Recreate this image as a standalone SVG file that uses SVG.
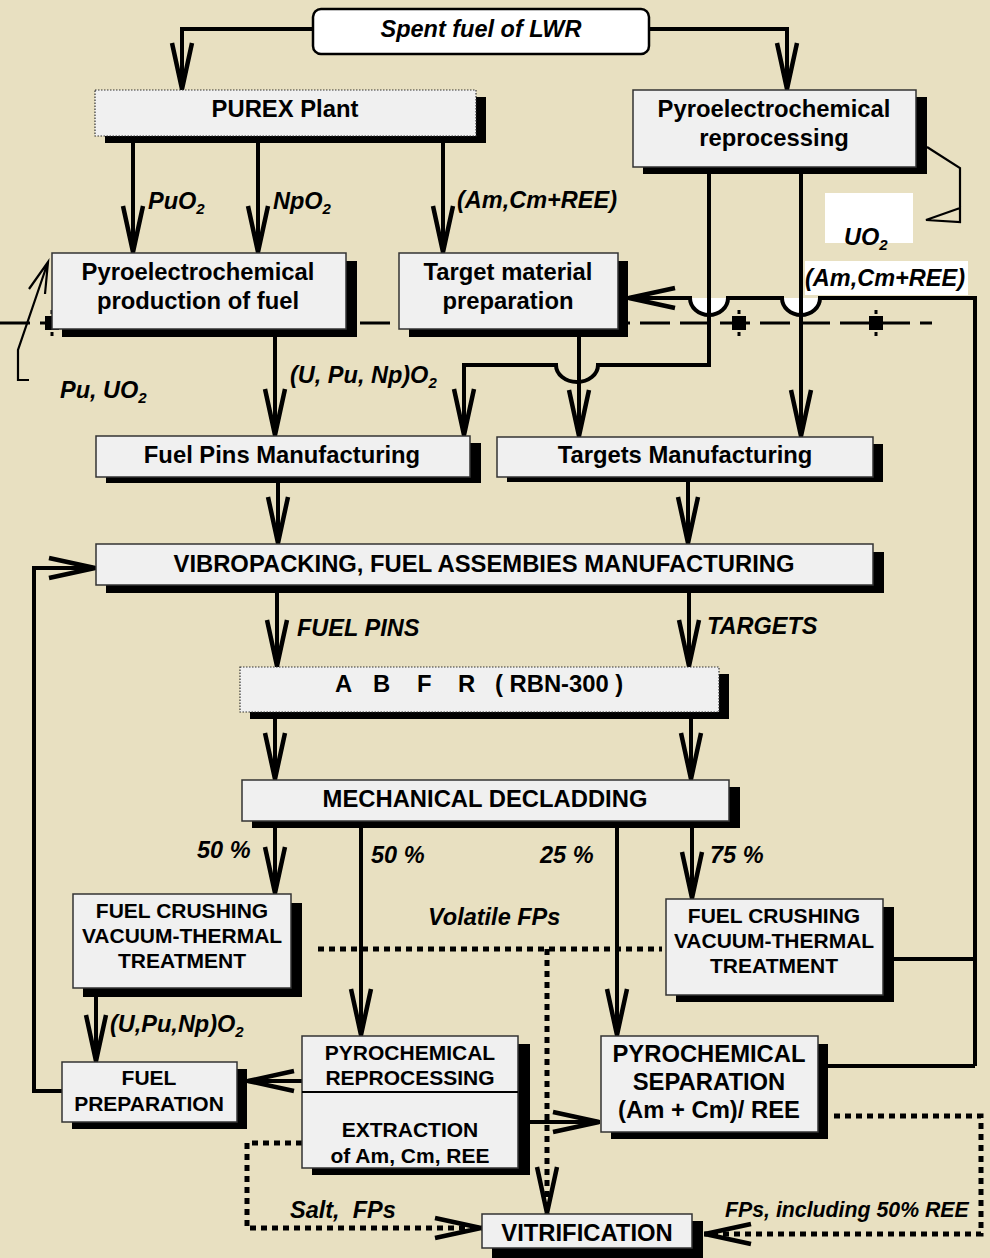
<svg xmlns="http://www.w3.org/2000/svg" width="990" height="1258" viewBox="0 0 990 1258">
<defs>
<style>
.bg{fill:#E8E0C1}
.c{fill:none;stroke:#000;stroke-width:4}
.d{fill:none;stroke:#000;stroke-width:5;stroke-dasharray:6 5}
.sh{fill:#000}
.bx{fill:#F0F0F0;stroke:#333;stroke-width:1.5}
.bxd{fill:#F0F0F0;stroke:#333;stroke-width:1.2;stroke-dasharray:1.5 1.5}
.t{font-family:"Liberation Sans",Arial,sans-serif;font-weight:bold;font-size:23.8px;fill:#000;text-anchor:middle}
.ts{font-family:"Liberation Sans",Arial,sans-serif;font-weight:bold;font-size:23.8px;fill:#000;text-anchor:start}
.s{font-family:"Liberation Sans",Arial,sans-serif;font-weight:bold;font-size:21px;fill:#000;text-anchor:middle}
.l{font-family:"Liberation Sans",Arial,sans-serif;font-weight:bold;font-style:italic;font-size:23.5px;fill:#000}
.sub{font-size:15px}
</style>
<marker id="ah" markerUnits="userSpaceOnUse" viewBox="-52 -14 56 28" refX="0" refY="0" markerWidth="56" markerHeight="28" orient="auto" overflow="visible">
<path d="M-47,-10 L-1,0 L-47,10" fill="none" stroke="#000" stroke-width="4.5" stroke-dasharray="none"/>
</marker>
</defs>
<rect class="bg" x="0" y="0" width="990" height="1258"/>

<g id="centerline">
<path d="M0,323 H932" fill="none" stroke="#000" stroke-width="3" stroke-dasharray="30 10"/>
<g fill="#000">
<rect x="45" y="316" width="14" height="14"/><rect x="50.5" y="310" width="3" height="4"/><rect x="50.5" y="332" width="3" height="4"/>
<rect x="732" y="316" width="14" height="14"/><rect x="737.5" y="310" width="3" height="4"/><rect x="737.5" y="332" width="3" height="4"/>
<rect x="869" y="316" width="14" height="14"/><rect x="874.5" y="310" width="3" height="4"/><rect x="874.5" y="332" width="3" height="4"/>
</g>
</g>

<g id="label-backgrounds" fill="#fff">
<rect x="825" y="193" width="88" height="50"/>
<rect x="805" y="261" width="163" height="34"/>
<path d="M690,298 A19,17 0 0 0 728,298 Z"/>
<path d="M782,298 A19,17 0 0 0 820,298 Z"/>
</g>

<g id="connectors">
<path class="c" d="M313,29 H182 V90" marker-end="url(#ah)"/>
<path class="c" d="M649,29 H787 V90" marker-end="url(#ah)"/>
<path class="c" d="M133,143 V253" marker-end="url(#ah)"/>
<path class="c" d="M258,143 V253" marker-end="url(#ah)"/>
<path class="c" d="M443,143 V253" marker-end="url(#ah)"/>
<path class="c" d="M275,337 V436" marker-end="url(#ah)"/>
<path class="c" d="M709,174 V365 H598 A21,17 0 0 1 556,365 H464 V436" marker-end="url(#ah)"/>
<path class="c" d="M801,174 V437" marker-end="url(#ah)"/>
<path class="c" d="M579,337 V437" marker-end="url(#ah)"/>
<path class="c" d="M975,1066 V298 H820 A19,17 0 0 1 782,298 H728 A19,17 0 0 1 690,298 H628" marker-end="url(#ah)"/>
<path class="c" d="M894,959 H975"/>
<path class="c" d="M828,1066 H975"/>
<path class="c" d="M278,483 V544" marker-end="url(#ah)"/>
<path class="c" d="M688,482 V544" marker-end="url(#ah)"/>
<path class="c" d="M62,1091 H34 V568 H96" marker-end="url(#ah)"/>
<path class="c" d="M277,593 V667" marker-end="url(#ah)"/>
<path class="c" d="M689,593 V667" marker-end="url(#ah)"/>
<path class="c" d="M275,719 V780" marker-end="url(#ah)"/>
<path class="c" d="M691,719 V780" marker-end="url(#ah)"/>
<path class="c" d="M275,828 V894" marker-end="url(#ah)"/>
<path class="c" d="M361,828 V1036" marker-end="url(#ah)"/>
<path class="c" d="M617,828 V1036" marker-end="url(#ah)"/>
<path class="c" d="M692,828 V899" marker-end="url(#ah)"/>
<path class="c" d="M96,997 V1062" marker-end="url(#ah)"/>
<path class="c" d="M302,1081 H247" marker-end="url(#ah)"/>
<path class="c" d="M530,1122 H600" marker-end="url(#ah)"/>
<path class="d" d="M318,949 H662"/>
<path class="d" d="M547,949 V1214" marker-end="url(#ah)"/>
<path class="d" d="M302,1143 H247 V1228 H482" marker-end="url(#ah)"/>
<path class="d" d="M834,1116 H981 V1234 H704" marker-end="url(#ah)"/>
<path d="M29,380 H18 V350 L48,262 M29,289 L48,262 L45,294" fill="none" stroke="#000" stroke-width="2.2"/>
<path d="M927,147 L960,168 V222 L926,220 L960,208 V222" fill="none" stroke="#000" stroke-width="2.2"/>
</g>

<g id="n-spent">
<rect x="313" y="9" width="336" height="45" rx="8" fill="#fff" stroke="#000" stroke-width="2.5"/>
<text class="l" x="481" y="37" text-anchor="middle">Spent fuel of LWR</text>
</g>
<g id="n-purex">
<rect class="sh" x="105" y="97" width="381" height="46"/>
<rect class="bxd" x="95" y="90" width="381" height="46"/>
<text class="t" x="285" y="117">PUREX Plant</text>
</g>
<g id="n-pyrorep">
<rect class="sh" x="643" y="97" width="284" height="77"/>
<rect class="bx" x="633" y="90" width="283" height="77"/>
<text class="t" x="774" y="117">Pyroelectrochemical</text>
<text class="t" x="774" y="146">reprocessing</text>
</g>
<g id="n-prod">
<rect class="sh" x="62" y="261" width="295" height="76"/>
<rect class="bx" x="52" y="253" width="294" height="76"/>
<text class="t" x="198" y="280">Pyroelectrochemical</text>
<text class="t" x="198" y="309">production of fuel</text>
</g>
<g id="n-target">
<rect class="sh" x="409" y="261" width="219" height="76"/>
<rect class="bx" x="399" y="253" width="219" height="76"/>
<text class="t" x="508" y="280">Target material</text>
<text class="t" x="508" y="309">preparation</text>
</g>
<g id="n-fuelpins">
<rect class="sh" x="106" y="443" width="375" height="40"/>
<rect class="bx" x="96" y="436" width="374" height="41"/>
<text class="t" x="282" y="463">Fuel Pins Manufacturing</text>
</g>
<g id="n-targetsmfg">
<rect class="sh" x="507" y="444" width="376" height="38"/>
<rect class="bx" x="497" y="437" width="376" height="40"/>
<text class="t" x="685" y="463">Targets Manufacturing</text>
</g>
<g id="n-vibro">
<rect class="sh" x="106" y="552" width="778" height="41"/>
<rect class="bx" x="96" y="544" width="777" height="41"/>
<text class="t" x="484" y="572">VIBROPACKING, FUEL ASSEMBIES MANUFACTURING</text>
</g>
<g id="n-abfr">
<rect class="sh" x="250" y="674" width="479" height="45"/>
<rect class="bxd" x="240" y="667" width="479" height="45"/>
<text class="ts" y="692"><tspan x="335">A</tspan><tspan x="373">B</tspan><tspan x="417">F</tspan><tspan x="458">R</tspan><tspan x="495">( RBN-300 )</tspan></text>
</g>
<g id="n-mech">
<rect class="sh" x="252" y="787" width="488" height="41"/>
<rect class="bx" x="242" y="780" width="487" height="41"/>
<text class="t" x="485" y="807">MECHANICAL DECLADDING</text>
</g>
<g id="n-fcl">
<rect class="sh" x="83" y="903" width="219" height="94"/>
<rect class="bx" x="73" y="894" width="218" height="94"/>
<text class="s" x="182" y="918">FUEL CRUSHING</text>
<text class="s" x="182" y="943">VACUUM-THERMAL</text>
<text class="s" x="182" y="968">TREATMENT</text>
</g>
<g id="n-fcr">
<rect class="sh" x="676" y="907" width="218" height="95"/>
<rect class="bx" x="666" y="899" width="217" height="96"/>
<text class="s" x="774" y="923">FUEL CRUSHING</text>
<text class="s" x="774" y="948">VACUUM-THERMAL</text>
<text class="s" x="774" y="973">TREATMENT</text>
</g>
<g id="n-fuelprep">
<rect class="sh" x="72" y="1069" width="175" height="60"/>
<rect class="bx" x="62" y="1062" width="175" height="60"/>
<text class="s" x="149" y="1085">FUEL</text>
<text class="s" x="149" y="1111">PREPARATION</text>
</g>
<g id="n-pyroproc">
<rect class="sh" x="312" y="1044" width="218" height="131"/>
<rect class="bx" x="302" y="1036" width="216" height="132"/>
<line x1="302" y1="1092" x2="518" y2="1092" stroke="#000" stroke-width="2"/>
<text class="s" x="410" y="1060">PYROCHEMICAL</text>
<text class="s" x="410" y="1085">REPROCESSING</text>
<text class="s" x="410" y="1137">EXTRACTION</text>
<text class="s" x="410" y="1163">of Am, Cm, REE</text>
</g>
<g id="n-pyrosep">
<rect class="sh" x="611" y="1044" width="217" height="95"/>
<rect class="bx" x="601" y="1036" width="217" height="96"/>
<text class="t" x="709" y="1062">PYROCHEMICAL</text>
<text class="t" x="709" y="1090">SEPARATION</text>
<text class="t" x="709" y="1118">(Am + Cm)/ REE</text>
</g>
<g id="n-vitr">
<rect class="sh" x="492" y="1221" width="211" height="40"/>
<rect class="bx" x="482" y="1214" width="210" height="34"/>
<text class="t" x="587" y="1241">VITRIFICATION</text>
</g>

<g id="labels">
<text class="l" x="148" y="209">PuO<tspan class="sub" dy="5">2</tspan></text>
<text class="l" x="273" y="209">NpO<tspan class="sub" dy="5">2</tspan></text>
<text class="l" x="457" y="208">(Am,Cm+REE)</text>
<text class="l" x="844" y="245">UO<tspan class="sub" dy="5">2</tspan></text>
<text class="l" x="805" y="286">(Am,Cm+REE)</text>
<text class="l" x="290" y="383">(U, Pu, Np)O<tspan class="sub" dy="5">2</tspan></text>
<text class="l" x="60" y="398">Pu, UO<tspan class="sub" dy="5">2</tspan></text>
<text class="l" x="297" y="636">FUEL PINS</text>
<text class="l" x="707" y="634">TARGETS</text>
<text class="l" x="197" y="858">50 %</text>
<text class="l" x="371" y="863">50 %</text>
<text class="l" x="540" y="863">25 %</text>
<text class="l" x="710" y="863">75 %</text>
<text class="l" x="428" y="925">Volatile FPs</text>
<text class="l" x="110" y="1032">(U,Pu,Np)O<tspan class="sub" dy="5">2</tspan></text>
<text class="l" x="290" y="1218">Salt,&#160; FPs</text>
<text class="l" x="725" y="1217" style="font-size:21.3px">FPs, including 50% REE</text>
</g>
</svg>
